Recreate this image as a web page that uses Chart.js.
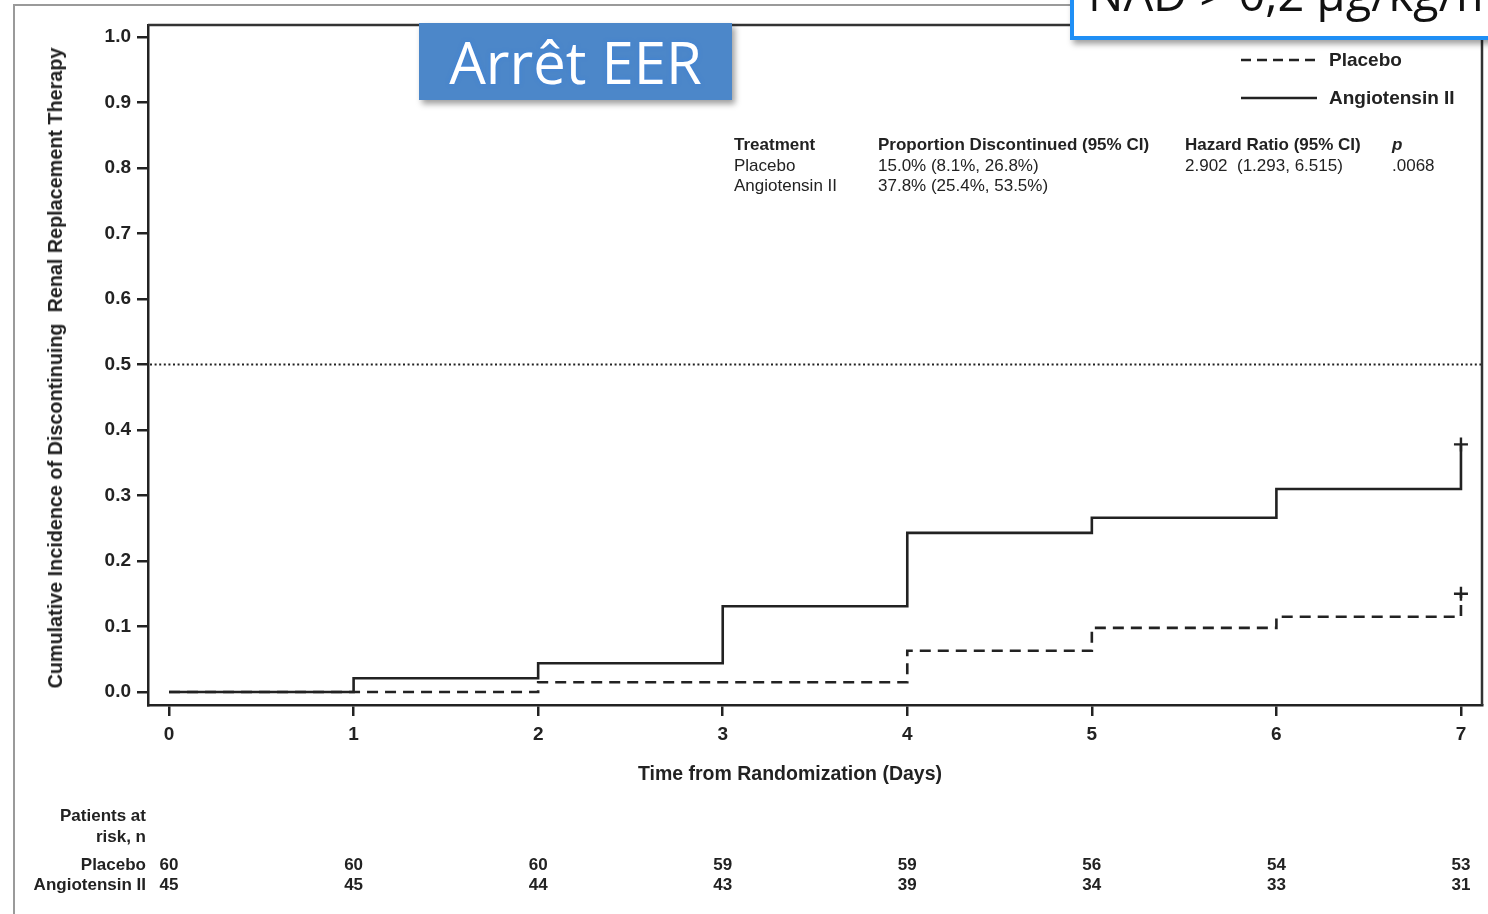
<!DOCTYPE html>
<html>
<head>
<meta charset="utf-8">
<script src="https://cdn.jsdelivr.net/npm/chart.js@4.4.1/dist/chart.umd.min.js"></script>
<style>
  html, body { margin: 0; padding: 0; background: #fff; }
  body { width: 1488px; height: 914px; position: relative; overflow: hidden;
         font-family: "Liberation Sans", Arial, sans-serif; color: #222; }
  #km { position: absolute; left: 0; top: 0; }
  .abs { position: absolute; white-space: pre; }
  .frame-v { position: absolute; left: 13px; top: 4px; width: 2px; height: 920px; background: #9a9a9a; }
  .frame-h { position: absolute; left: 13px; top: 4px; width: 1100px; height: 2px; background: #9a9a9a; }
  .bold { font-weight: bold; }
  .stats { font-size: 17px; line-height: 20px; }
  .risk { font-size: 17px; font-weight: bold; line-height: 20px; }
  .badge { position: absolute; left: 419px; top: 23px; width: 313px; height: 77px;
           background: #4c87c9; box-shadow: 3px 4px 6px rgba(0,0,0,0.38); }
  .badge span { position: absolute; left: 0; right: 0; top: 4px; text-align: center;
           font-family: "Open Sans", sans-serif; font-size: 58px; line-height: 70px; color: #fff;
           text-shadow: 0 0 4px rgba(60,130,220,0.95); }
  .nad { position: absolute; left: 1070px; top: -40px; width: 460px; height: 72px;
         background: #fff; border: 4px solid #1f8ff5; box-shadow: 3px 4px 6px rgba(0,0,0,0.38); }
  .nad-text { position: absolute; left: 1088px; top: -30px; font-family: "Open Sans", sans-serif;
         font-size: 47px; line-height: 47px; font-weight: 500; color: #111; white-space: pre; }
</style>
</head>
<body>
<div class="frame-v"></div>
<div class="frame-h"></div>
<canvas id="km" width="1488" height="914"></canvas>

<div class="badge"><span>Arrêt EER</span></div>
<div class="nad"></div>
<div class="nad-text">NAD &gt; 0,2 µg/kg/min</div>

<!-- legend -->
<svg class="abs" style="left:1238px; top:50px;" width="82" height="60">
  <line x1="3" y1="10" x2="79" y2="10" stroke="#222" stroke-width="2.5" stroke-dasharray="10,6"/>
  <line x1="3" y1="48" x2="79" y2="48" stroke="#222" stroke-width="2.5"/>
</svg>
<div class="abs bold" style="left:1329px; top:49px; font-size:19px; line-height:22px;">Placebo</div>
<div class="abs bold" style="left:1329px; top:87px; font-size:19px; line-height:22px;">Angiotensin II</div>

<!-- summary statistics -->
<div class="abs stats bold" style="left:734px; top:135px;">Treatment</div>
<div class="abs stats" style="left:734px; top:156px;">Placebo</div>
<div class="abs stats" style="left:734px; top:176px;">Angiotensin II</div>
<div class="abs stats bold" style="left:878px; top:135px;">Proportion Discontinued (95% CI)</div>
<div class="abs stats" style="left:878px; top:156px;">15.0% (8.1%, 26.8%)</div>
<div class="abs stats" style="left:878px; top:176px;">37.8% (25.4%, 53.5%)</div>
<div class="abs stats bold" style="left:1185px; top:135px;">Hazard Ratio (95% CI)</div>
<div class="abs stats" style="left:1185px; top:156px;">2.902  (1.293, 6.515)</div>
<div class="abs stats bold" style="left:1392px; top:135px; font-style:italic;">p</div>
<div class="abs stats" style="left:1392px; top:156px;">.0068</div>

<!-- axis titles -->
<div class="abs bold" style="left:55px; top:368px; font-size:19.8px; line-height:20px; transform:translate(-50%,-50%) rotate(-90deg);">Cumulative Incidence of Discontinuing  Renal Replacement Therapy</div>
<div class="abs bold" style="left:790px; top:762px; font-size:19.5px; line-height:22px; transform:translateX(-50%);">Time from Randomization (Days)</div>

<!-- number at risk labels -->
<div class="abs risk" style="right:1342px; top:806px; text-align:right;">Patients at</div>
<div class="abs risk" style="right:1342px; top:827px; text-align:right;">risk, n</div>
<div class="abs risk" style="right:1342px; top:855px; text-align:right;">Placebo</div>
<div class="abs risk" style="right:1342px; top:875px; text-align:right;">Angiotensin II</div>
<div id="riskRows"></div>

<script>
// Study days on the horizontal axis
const days = [0, 1, 2, 3, 4, 5, 6, 7];
// Cumulative incidence of discontinuing renal replacement therapy
const placeboIncidence = [0.000, 0.000, 0.015, 0.015, 0.063, 0.098, 0.115, 0.150];
const angiotensinIncidence = [0.000, 0.021, 0.044, 0.131, 0.243, 0.266, 0.310, 0.378];
// Axis ticks
const xTicks = [0, 1, 2, 3, 4, 5, 6, 7];
const yTicks = [0.0, 0.1, 0.2, 0.3, 0.4, 0.5, 0.6, 0.7, 0.8, 0.9, 1.0];
// Median reference level
const referenceLevel = 0.5;
// Patients at risk per day
const atRiskPlacebo = [60, 60, 60, 59, 59, 56, 54, 53];
const atRiskAngiotensin = [45, 45, 44, 43, 39, 34, 33, 31];

const ink = '#222';
const lastIdx = days.length - 1;

function curve(label, values, dash) {
  return {
    label,
    data: days.map((d, i) => ({ x: d, y: values[i] })),
    stepped: 'before',
    borderColor: ink,
    borderWidth: 2.6,
    borderDash: dash,
    fill: false,
    pointStyle: 'cross',
    pointRadius: ctx => ctx.dataIndex === lastIdx ? 7 : 0,
    pointHoverRadius: ctx => ctx.dataIndex === lastIdx ? 7 : 0,
    pointBorderColor: ink,
    pointBorderWidth: 2.4,
    pointBackgroundColor: ink
  };
}

// Dotted reference line plus the top/right frame of the plot box
const plotDecor = {
  id: 'plotDecor',
  beforeDatasetsDraw(chart) {
    const { ctx, chartArea: a, scales } = chart;
    const y = scales.y.getPixelForValue(referenceLevel);
    ctx.save();
    ctx.strokeStyle = ink;
    ctx.lineWidth = 2;
    ctx.setLineDash([2, 2.6]);
    ctx.beginPath();
    ctx.moveTo(a.left + 2, y);
    ctx.lineTo(a.right, y);
    ctx.stroke();
    ctx.restore();
  },
  afterDraw(chart) {
    const { ctx, chartArea: a } = chart;
    ctx.save();
    ctx.strokeStyle = '#333';
    ctx.lineWidth = 2.5;
    ctx.beginPath();
    ctx.moveTo(a.left, a.top);
    ctx.lineTo(a.right, a.top);
    ctx.lineTo(a.right, a.bottom);
    ctx.stroke();
    ctx.restore();
  }
};

const axisFont = { family: '"Liberation Sans", Arial, sans-serif', size: 19, weight: 'bold' };

const chart = new Chart(document.getElementById('km'), {
  type: 'line',
  data: {
    datasets: [
      curve('Placebo', placeboIncidence, [11, 7]),
      curve('Angiotensin II', angiotensinIncidence, [])
    ]
  },
  options: {
    responsive: false,
    devicePixelRatio: 1,
    animation: false,
    events: [],
    layout: { autoPadding: false, padding: { left: 0, top: 25, right: 6, bottom: 149 } },
    plugins: { legend: { display: false }, tooltip: { enabled: false } },
    scales: {
      x: {
        type: 'linear',
        min: -0.114,
        max: 7.114,
        afterBuildTicks: s => { s.ticks = xTicks.map(v => ({ value: v })); },
        afterFit: s => { s.height = 60; },
        ticks: { color: ink, font: axisFont, padding: 7, maxRotation: 0, autoSkip: false,
                 callback: v => String(v) },
        grid: { display: true, drawOnChartArea: false, drawTicks: true, tickLength: 11,
                color: ink, lineWidth: 2.5 },
        border: { display: true, color: ink, width: 2.5 }
      },
      y: {
        type: 'linear',
        min: -0.0198,
        max: 1.0183,
        afterBuildTicks: s => { s.ticks = yTicks.map(v => ({ value: v })); },
        afterFit: s => { s.width = 148; },
        ticks: { color: ink, font: axisFont, padding: 6, autoSkip: false,
                 callback: v => v.toFixed(1) },
        grid: { display: true, drawOnChartArea: false, drawTicks: true, tickLength: 11,
                color: ink, lineWidth: 2.5 },
        border: { display: true, color: ink, width: 2.5 }
      }
    }
  },
  plugins: [plotDecor]
});

// Number-at-risk rows aligned to the day ticks
const rows = document.getElementById('riskRows');
function addRiskRow(values, top) {
  values.forEach((n, i) => {
    const el = document.createElement('div');
    el.className = 'abs risk';
    el.textContent = String(n);
    el.style.left = chart.scales.x.getPixelForValue(days[i]) + 'px';
    el.style.top = top + 'px';
    el.style.transform = 'translateX(-50%)';
    rows.appendChild(el);
  });
}
addRiskRow(atRiskPlacebo, 855);
addRiskRow(atRiskAngiotensin, 875);
</script>
</body>
</html>
